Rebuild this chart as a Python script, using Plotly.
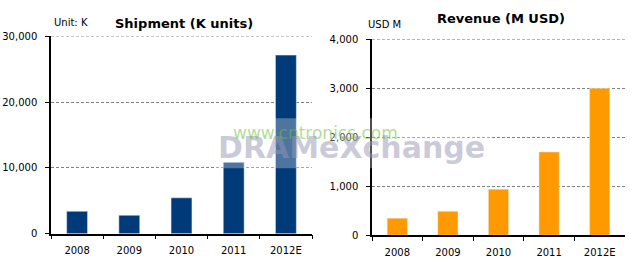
import plotly.graph_objects as go

years = ["2008", "2009", "2010", "2011", "2012E"]
shipment_k = [3400, 2800, 5450, 10850, 27150]
revenue_musd = [350, 490, 940, 1700, 3000]

navy = "#003a78"
orange = "#ff9900"
font_family = "DejaVu Sans"

fig = go.Figure()
fig.add_trace(go.Bar(x=years, y=shipment_k, marker_color=navy, xaxis="x", yaxis="y",
                     showlegend=False, hoverinfo="x+y"))
fig.add_trace(go.Bar(x=years, y=revenue_musd, marker_color=orange, xaxis="x2", yaxis="y2",
                     showlegend=False, hoverinfo="x+y"))

W, H = 636, 272
def px(x):
    return x / W
def py(y):
    return 1 - y / H

grid_dash = "3px,2px"
xcommon = dict(showline=True, linecolor="black", linewidth=1.5, ticks="outside",
               tickson="boundaries", ticklen=4, tickcolor="black", showgrid=False,
               ticklabelstandoff=7,
               tickfont=dict(family=font_family, size=10, color="black"))
ycommon = dict(showline=True, linecolor="black", linewidth=1.5, ticks="outside", ticklen=4,
               tickcolor="black", showgrid=True, gridcolor="#808080", griddash=grid_dash,
               gridwidth=1, zeroline=False, tickformat=",d", ticklabelstandoff=6,
               tickfont=dict(family=font_family, size=10, color="black"))

fig.update_layout(
    width=W, height=H, margin=dict(l=0, r=0, t=0, b=0),
    paper_bgcolor="white", plot_bgcolor="white", bargap=0.6,
    xaxis=dict(domain=[px(51), px(312)], anchor="y", **xcommon),
    yaxis=dict(domain=[py(238.3), py(32.7)], anchor="x", range=[0, 30000], dtick=10000, **ycommon),
    xaxis2=dict(domain=[px(372), px(625)], anchor="y2", **xcommon),
    yaxis2=dict(domain=[py(240), py(35.7)], anchor="x2", range=[0, 4000], dtick=1000, **ycommon),
)

# top gridlines (plotly clips gridlines at the range end)
fig.add_shape(type="line", xref="x domain", yref="y", x0=0, x1=1, y0=30000, y1=30000,
              line=dict(color="#808080", width=1, dash=grid_dash))
fig.add_shape(type="line", xref="x2 domain", yref="y2", x0=0, x1=1, y0=4000, y1=4000,
              line=dict(color="#808080", width=1, dash=grid_dash))
# faint white band behind watermark
fig.add_shape(type="rect", xref="paper", yref="paper", x0=px(215), x1=px(490),
              y0=py(170), y1=py(118), line=dict(width=0),
              fillcolor="rgba(255,255,255,0.3)", layer="above")

ann = [
    dict(text="<b>Shipment (K units)</b>", x=px(184), y=py(19), font=dict(size=13)),
    dict(text="Unit: K", x=px(71), y=py(18), font=dict(size=10)),
    dict(text="<b>Revenue (M USD)</b>", x=px(501), y=py(14), font=dict(size=13)),
    dict(text="USD M", x=px(384), y=py(20), font=dict(size=10)),
    dict(text="<b>DRAMeXchange</b>", x=px(351), y=py(148),
         font=dict(size=30, color="rgba(150,150,180,0.5)")),
    dict(text="www.cntronics.com", x=px(315), y=py(133),
         font=dict(size=17, color="rgba(110,190,60,0.55)")),
]
for a in ann:
    a["font"].setdefault("color", "black")
    a["font"]["family"] = font_family
    fig.add_annotation(xref="paper", yref="paper", showarrow=False,
                       xanchor="center", yanchor="middle", **a)

fig.write_html("out.html")
